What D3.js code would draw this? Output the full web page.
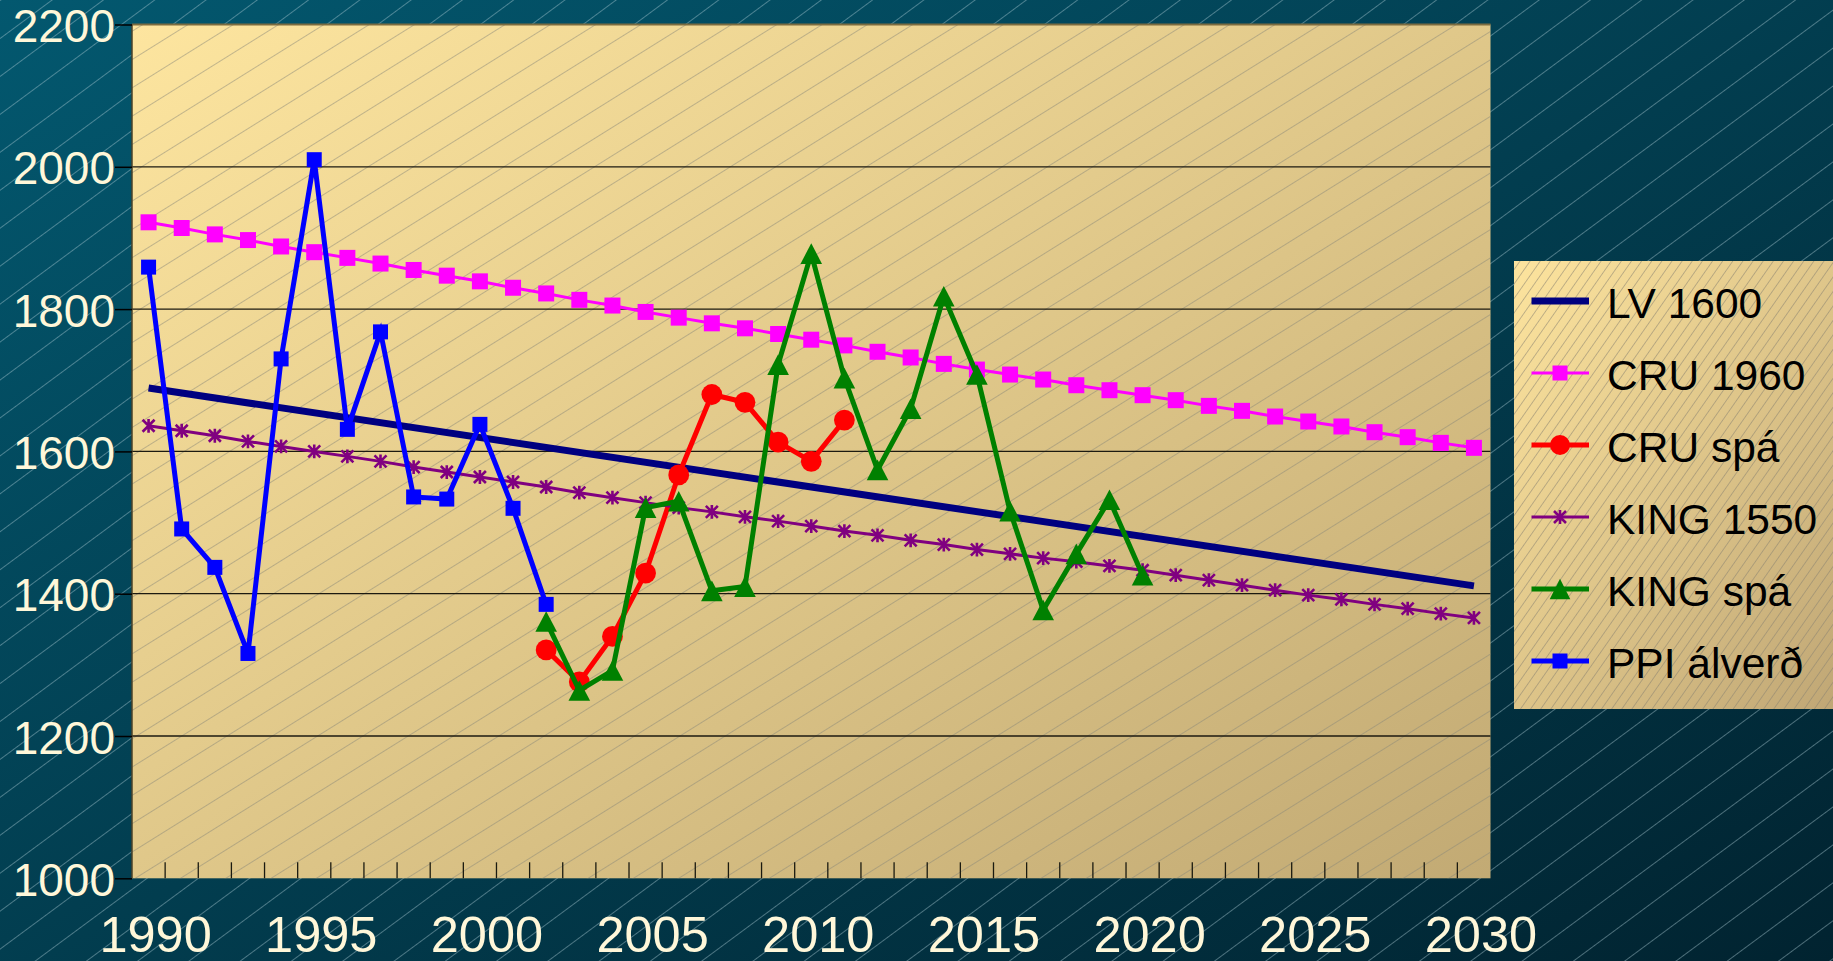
<!DOCTYPE html>
<html><head><meta charset="utf-8">
<script src="https://cdn.jsdelivr.net/npm/d3@7"></script>
<style>html,body{margin:0;padding:0;background:#023a4c;overflow:hidden}svg{display:block}</style>
</head><body><svg id="chart" width="1833" height="961"></svg>
<script>
// ---------- DATA ----------
const years = [1990,1991,1992,1993,1994,1995,1996,1997,1998,1999,2000,2001,2002,2003,2004,2005,2006,2007,2008,2009,2010,2011,2012,2013,2014,2015,2016,2017,2018,2019,2020,2021,2022,2023,2024,2025,2026,2027,2028,2029,2030];
const xTickLabels = ["1990","1995","2000","2005","2010","2015","2020","2025","2030"];
const yTickValues = [1000,1200,1400,1600,1800,2000,2200];

const lvYears = [1990, 2030];
const lvValues = [1689, 1411];

const cru1960Values = [1922,1914,1905,1897,1888,1880,1872,1864,1855,1847,1839,1830,1822,1813,1805,1796,1788,1780,1773,1765,1757,1749,1740,1732,1723,1715,1708,1701,1693,1686,1679,1672,1664,1657,1649,1642,1635,1627,1620,1612,1605];
const king1550Values = [1636,1629,1622,1614,1607,1600,1593,1586,1578,1571,1564,1557,1550,1542,1535,1528,1521,1515,1508,1502,1495,1488,1482,1475,1469,1462,1456,1450,1445,1439,1433,1426,1419,1412,1405,1398,1392,1385,1379,1372,1366];

const cruSpaYears = [2002,2003,2004,2005,2006,2007,2008,2009,2010,2011];
const cruSpaValues = [1321,1276,1340,1429,1567,1680,1669,1613,1586,1644];

const kingSpaYears = [2002,2003,2004,2005,2006,2007,2008,2009,2010,2011,2012,2013,2014,2015,2016,2017,2018,2019,2020];
const kingSpaValues = [1361,1264,1292,1521,1530,1404,1410,1722,1878,1703,1574,1660,1818,1708,1516,1377,1456,1532,1426];

const ppiYears = [1990,1991,1992,1993,1994,1995,1996,1997,1998,1999,2000,2001,2002];
const ppiValues = [1859,1491,1437,1316,1730,2010,1631,1768,1536,1533,1638,1520,1385];

const seriesNames = ["LV 1600","CRU 1960","CRU spá","KING 1550","KING spá","PPI álverð"];

// ---------- SETUP ----------
const W = 1833, H = 961;
const plot = {left:132, right:1490.5, top:24.5, bottom:878.3};
const svg = d3.select("#chart");
const defs = svg.append("defs");

function grad(id, c1, c2){
  const g = defs.append("linearGradient").attr("id", id)
    .attr("x1","0").attr("y1","0").attr("x2","1").attr("y2","1");
  g.append("stop").attr("offset","0").attr("stop-color", c1);
  g.append("stop").attr("offset","1").attr("stop-color", c2);
}
grad("bgGrad", "#03586f", "#012330");
grad("plotGrad", "#fde59f", "#c2aa74");
grad("legGrad", "#fde49e", "#bea574");

function hatch(id, spacing, angle, color, op){
  const p = defs.append("pattern").attr("id", id)
    .attr("patternUnits","userSpaceOnUse")
    .attr("width", 60).attr("height", spacing)
    .attr("patternTransform", `rotate(${angle})`);
  p.append("line").attr("x1",0).attr("x2",60).attr("y1",0.5).attr("y2",0.5)
    .attr("stroke", color).attr("stroke-opacity", op).attr("stroke-width", 1);
}
hatch("bgHatch", 30.5, -36.5, "#a8c8d0", 0.45);
hatch("plotHatch", 24, -32, "#8a8878", 0.5);
hatch("legHatch", 8.3, -55, "#8a8270", 0.55);

svg.append("rect").attr("width", W).attr("height", H).attr("fill", "url(#bgGrad)");
svg.append("rect").attr("width", W).attr("height", H).attr("fill", "url(#bgHatch)");

// scales
const x = d3.scaleBand().domain(years).range([plot.left, plot.right]).padding(0);
const bw = x.bandwidth();
const xc = yr => x(yr) + bw/2;
const y = d3.scaleLinear().domain([1000, 2200]).range([plot.bottom, plot.top]);

// plot area
svg.append("rect").attr("x", plot.left).attr("y", plot.top)
  .attr("width", plot.right-plot.left).attr("height", plot.bottom-plot.top).attr("fill","url(#plotGrad)");
svg.append("rect").attr("x", plot.left).attr("y", plot.top)
  .attr("width", plot.right-plot.left).attr("height", plot.bottom-plot.top).attr("fill","url(#plotHatch)");

// gridlines
svg.append("g").selectAll("line").data(yTickValues.filter(v => v > 1000 && v < 2200)).join("line")
  .attr("x1", plot.left).attr("x2", plot.right)
  .attr("y1", d => y(d)).attr("y2", d => y(d))
  .attr("stroke", "#1c1a10").attr("stroke-width", 1.3);
// top border
svg.append("line").attr("x1", plot.left).attr("x2", plot.right).attr("y1", y(2200)).attr("y2", y(2200))
  .attr("stroke", "#7c6c40").attr("stroke-width", 2.2);
// left axis line
svg.append("line").attr("x1", plot.left).attr("x2", plot.left).attr("y1", plot.top).attr("y2", plot.bottom)
  .attr("stroke", "#4a4228").attr("stroke-width", 1.5);

// y axis
const yAxis = d3.axisLeft(y).tickValues(yTickValues).tickSize(17).tickPadding(2).tickFormat(d3.format("d"));
const yg = svg.append("g").attr("transform", `translate(${plot.left},0)`).call(yAxis);
yg.select(".domain").remove();
yg.selectAll(".tick line").attr("stroke", "#000").attr("stroke-width", 1.5);
yg.selectAll(".tick text").attr("fill", "#fff7d9").attr("font-family", "'Liberation Sans', Arial, sans-serif")
  .attr("font-size", 46).attr("dy", null).attr("y", 17).attr("x", -17);

// x axis: inside ticks at band boundaries, labels every 5 years
const boundaryYears = years.slice(1);
svg.append("g").selectAll("line").data(boundaryYears).join("line")
  .attr("x1", d => x(d)).attr("x2", d => x(d))
  .attr("y1", plot.bottom - 16).attr("y2", plot.bottom)
  .attr("stroke", "#1a1a10").attr("stroke-width", 1.3);
svg.append("g").selectAll("text").data(xTickLabels).join("text")
  .attr("x", d => xc(+d) + 7).attr("y", 951.5)
  .attr("text-anchor", "middle")
  .attr("fill", "#fff7d9").attr("font-family", "'Liberation Sans', Arial, sans-serif").attr("font-size", 50.5)
  .text(d => d);

// ---------- SERIES ----------
const line = d3.line().x(d => xc(d[0])).y(d => y(d[1]));
const zip = (a, b) => a.map((v, i) => [v, b[i]]);

const squarePath = s => d3.symbol(d3.symbolSquare, s*s)();
const circlePath = r => d3.symbol(d3.symbolCircle, Math.PI*r*r)();
const triPath = (w, h) => `M0,${-h/2}L${w/2},${h/2}L${-w/2},${h/2}Z`;
const starPath = s => `M${-s},${-s}L${s},${s}M${-s},${s}L${s},${-s}M0,${-s*1.15}L0,${s*1.15}`;

const series = [
  {name: seriesNames[0], data: zip(lvYears, lvValues), color: "#000080", width: 7, marker: null},
  {name: seriesNames[1], data: zip(years, cru1960Values), color: "#ff00ff", width: 3, marker: squarePath(16), fillMarker: true, legMarker: squarePath(15)},
  {name: seriesNames[2], data: zip(cruSpaYears, cruSpaValues), color: "#ff0000", width: 5, marker: circlePath(10.4), fillMarker: true, legMarker: circlePath(10)},
  {name: seriesNames[3], data: zip(years, king1550Values), color: "#800080", width: 3, marker: starPath(6), fillMarker: false, legMarker: starPath(6)},
  {name: seriesNames[4], data: zip(kingSpaYears, kingSpaValues), color: "#008000", width: 5, marker: triPath(21.6, 20.6), fillMarker: true, legMarker: triPath(20.6, 20.6)},
  {name: seriesNames[5], data: zip(ppiYears, ppiValues), color: "#0000ff", width: 5, marker: squarePath(15), fillMarker: true, legMarker: squarePath(15)}
];

const sg = svg.append("g");
series.forEach(s => {
  const g = sg.append("g");
  g.append("path").attr("d", line(s.data)).attr("fill", "none")
    .attr("stroke", s.color).attr("stroke-width", s.width).attr("stroke-linejoin", "miter").attr("stroke-linecap", "butt");
  if (s.marker) {
    g.selectAll("path.m").data(s.data).join("path").attr("class", "m")
      .attr("transform", d => `translate(${xc(d[0])},${y(d[1])})`)
      .attr("d", s.marker)
      .attr("fill", s.fillMarker ? s.color : "none")
      .attr("stroke", s.fillMarker ? "none" : s.color)
      .attr("stroke-width", s.fillMarker ? 0 : 2.6);
  }
});

// ---------- LEGEND ----------
const leg = {x: 1514, y: 261, w: 340, h: 448};
svg.append("rect").attr("x", leg.x).attr("y", leg.y).attr("width", leg.w).attr("height", leg.h).attr("fill", "url(#legGrad)");
svg.append("rect").attr("x", leg.x).attr("y", leg.y).attr("width", leg.w).attr("height", leg.h).attr("fill", "url(#legHatch)");
const rowY = i => 301 + i*72;
const lg = svg.append("g");
series.forEach((s, i) => {
  const g = lg.append("g").attr("transform", `translate(0,${rowY(i)})`);
  g.append("line").attr("x1", 1531.5).attr("x2", 1589).attr("y1", 0).attr("y2", 0)
    .attr("stroke", s.color).attr("stroke-width", s.width);
  if (s.legMarker) {
    g.append("path").attr("transform", "translate(1560,0)").attr("d", s.legMarker)
      .attr("fill", s.fillMarker ? s.color : "none")
      .attr("stroke", s.fillMarker ? "none" : s.color)
      .attr("stroke-width", s.fillMarker ? 0 : 2.6);
  }
  g.append("text").attr("x", 1607).attr("y", 17)
    .attr("font-family", "'Liberation Sans', Arial, sans-serif").attr("font-size", 42.5).attr("fill", "#000")
    .text(s.name);
});
</script>
</body></html>
